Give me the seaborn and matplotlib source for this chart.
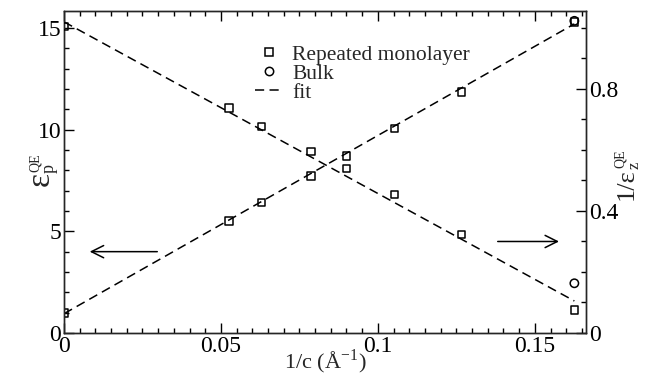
import numpy as np
import pandas as pd
import matplotlib
matplotlib.use("Agg")
import matplotlib.pyplot as plt
import seaborn as sns
from matplotlib.ticker import MultipleLocator
from matplotlib.lines import Line2D

# ---- data ----
inv_c = [0.0, 0.0526, 0.0629, 0.0787, 0.0901, 0.1053, 0.1266, 0.1626]
eps_p = [0.98, 5.51, 6.43, 7.72, 8.71, 10.05, 11.85, 15.3]
inv_eps_z = [1.005, 0.738, 0.676, 0.595, 0.539, 0.454, 0.323, 0.075]
bulk_x = [0.1626]
bulk_eps_p = [15.35]
bulk_inv_eps_z = [0.163]
fit_x = [0.0, 0.1626]
fit_eps_p = [0.95, 15.2]
fit_inv_eps_z = [1.02, 0.105]

x_ticks = [0, 0.05, 0.1, 0.15]
x_ticklabels = ["0", "0.05", "0.1", "0.15"]
yl_ticks = [0, 5, 10, 15]
yr_ticks = [0, 0.4, 0.8]
yr_ticklabels = ["0", "0.4", "0.8"]

sns.set_theme(style="ticks")
plt.rcParams["font.family"] = ["Liberation Serif", "DejaVu Serif"]
plt.rcParams["mathtext.fontset"] = "stix"
plt.rcParams["axes.linewidth"] = 1.0

W, H = 650, 375
fig = plt.figure(figsize=(6.5, 3.75), dpi=100)
ax = fig.add_axes([0.0985, 0.112, 0.803, 0.859])
ax2 = ax.twinx()

mono = pd.DataFrame({"x": inv_c, "ep": eps_p, "iz": inv_eps_z})
bulk = pd.DataFrame({"x": bulk_x, "ep": bulk_eps_p, "iz": bulk_inv_eps_z})
fit = pd.DataFrame({"x": fit_x, "ep": fit_eps_p, "iz": fit_inv_eps_z})

dash = (6, 3.5)
sns.lineplot(data=fit, x="x", y="ep", ax=ax, color="black", lw=1.1,
             linestyle=(0, dash))
sns.scatterplot(data=mono, x="x", y="ep", ax=ax, marker="s", s=28,
                facecolor="none", edgecolor="black", linewidth=1.1, zorder=5)
sns.scatterplot(data=bulk, x="x", y="ep", ax=ax, marker="o", s=36,
                facecolor="none", edgecolor="black", linewidth=1.1, zorder=5)

sns.lineplot(data=fit, x="x", y="iz", ax=ax2, color="black", lw=1.1,
             linestyle=(0, dash))
sns.scatterplot(data=mono, x="x", y="iz", ax=ax2, marker="s", s=28,
                facecolor="none", edgecolor="black", linewidth=1.1, zorder=5)
sns.scatterplot(data=bulk, x="x", y="iz", ax=ax2, marker="o", s=36,
                facecolor="none", edgecolor="black", linewidth=1.1, zorder=5)

ax.set_xlim(0, 0.1663)
ax.set_ylim(0, 15.84)
ax2.set_ylim(0, 1.056)

ax.set_xticks(x_ticks)
ax.set_xticklabels(x_ticklabels)
ax.xaxis.set_minor_locator(MultipleLocator(0.005))
ax.set_yticks(yl_ticks)
ax.yaxis.set_minor_locator(MultipleLocator(1))
ax2.set_yticks(yr_ticks)
ax2.set_yticklabels(yr_ticklabels)
ax2.yaxis.set_minor_locator(MultipleLocator(0.1))

fs = 17
ax.tick_params(which="both", direction="in", top=True, right=False,
               labelsize=fs, width=1.0, colors="black", pad=2)
ax.tick_params(which="major", length=7)
ax.tick_params(which="minor", length=3.5)
ax2.tick_params(which="both", direction="in", left=False, right=True,
                labelsize=fs, width=1.0, colors="black", pad=2)
ax2.tick_params(which="major", length=7)
ax2.tick_params(which="minor", length=3.5)

ax.set_xlabel(r"1/c (Å$^{\mathregular{-1}}$)", fontsize=16, labelpad=-6.5)
ax.set_ylabel("")
ax2.set_ylabel("")

# ---- y-axis labels built from pieces (large epsilon, small indices) ----
def fx(px):
    return px / W

def fy(py):
    return 1 - py / H

fig.canvas.draw()
r = fig.canvas.get_renderer()

# left: eps_p^QE
eps_l = fig.text(fx(41), fy(186), "ε", rotation=90, fontsize=24,
                 ha="center", va="bottom")
bb = eps_l.get_window_extent(r)
top_px = H - bb.y1
fig.text(fx(35), fy(top_px - 0.5), "QE", rotation=90, fontsize=10,
         ha="center", va="bottom")
fig.text(fx(49), fy(top_px + 1), "p", rotation=90, fontsize=13,
         ha="center", va="bottom")

# right: 1/eps_z^QE
base_r = fig.text(fx(627), fy(200), "1/ε", rotation=90, fontsize=19,
                  ha="center", va="bottom")
bb = base_r.get_window_extent(r)
top_px = H - bb.y1
fig.text(fx(620.5), fy(top_px - 0.5), "QE", rotation=90, fontsize=10,
         ha="center", va="bottom")
fig.text(fx(635), fy(top_px + 1), "z", rotation=90, fontsize=12,
         ha="center", va="bottom")

# arrows indicating which axis each curve belongs to
ax.annotate("", xy=(0.0073, 4.0), xytext=(0.0306, 4.0),
            arrowprops=dict(arrowstyle="->", color="black", lw=1.1,
                            mutation_scale=22))
ax.annotate("", xy=(0.1586, 4.5), xytext=(0.1373, 4.5),
            arrowprops=dict(arrowstyle="->", color="black", lw=1.1,
                            mutation_scale=22))

handles = [
    Line2D([], [], marker="s", ls="none", mfc="none", mec="black", ms=5.3, mew=1.1),
    Line2D([], [], marker="o", ls="none", mfc="none", mec="black", ms=6, mew=1.1),
    Line2D([], [], ls=(0, dash), color="black", lw=1.1),
]
labels = ["Repeated monolayer", "Bulk", "fit"]
ax2.legend(handles, labels, loc="upper left", bbox_to_anchor=(0.366, 0.895),
           frameon=False, fontsize=15.5, handlelength=1.3, handletextpad=0.42,
           labelspacing=-0.05, borderaxespad=0, borderpad=0)

fig.savefig("out.png", dpi=100)
